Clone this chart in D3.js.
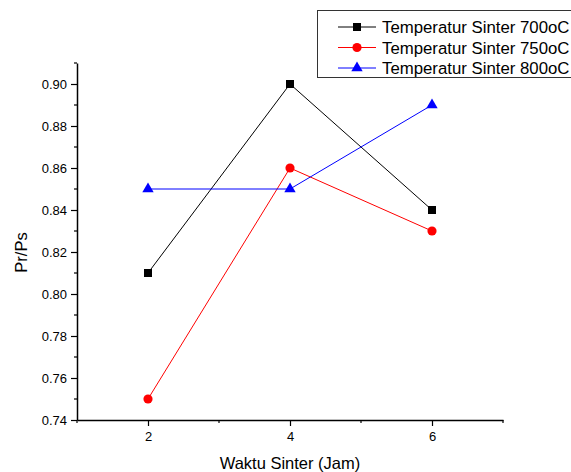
<!DOCTYPE html>
<html>
<head>
<meta charset="utf-8">
<script src="https://cdn.jsdelivr.net/npm/d3@7"></script>
<style>
  body { margin: 0; background: #fff; }
  svg { display: block; font-family: "Liberation Sans", Arial, sans-serif; }
</style>
</head>
<body>
<div id="chart"></div>
<script>
// Data
const waktu = [2, 4, 6];
const seriesNames = ["Temperatur Sinter 700oC", "Temperatur Sinter 750oC", "Temperatur Sinter 800oC"];
const pr700 = [0.81, 0.90, 0.84];
const pr750 = [0.75, 0.86, 0.83];
const pr800 = [0.85, 0.85, 0.89];
const yTicks = [0.74, 0.76, 0.78, 0.80, 0.82, 0.84, 0.86, 0.88, 0.90];
const yMinor = [0.75, 0.77, 0.79, 0.81, 0.83, 0.85, 0.87, 0.89, 0.91];
const xTicks = [2, 4, 6];
const xMinor = [1, 3, 5, 7];

const width = 571, height = 472;
const margin = { top: 63, right: 68, bottom: 52, left: 77 };

const svg = d3.select("#chart").append("svg")
  .attr("width", width)
  .attr("height", height);

const x = d3.scaleLinear().domain([1, 7]).range([margin.left, width - margin.right]);
const y = d3.scaleLinear().domain([0.74, 0.91]).range([height - margin.bottom, margin.top]);

// y axis
svg.append("g")
  .attr("transform", `translate(${margin.left},0)`)
  .call(d3.axisLeft(y).tickValues(yTicks).tickSize(6).tickSizeOuter(0).tickFormat(d3.format(".2f")))
  .call(g => g.selectAll("text").attr("font-size", 13).attr("fill", "#000").attr("dx", -1))
  .call(g => g.select(".domain").attr("stroke-width", 1.5))
  .call(g => g.selectAll(".tick line").attr("stroke-width", 1.2));

svg.append("g")
  .attr("transform", `translate(${margin.left},0)`)
  .selectAll("line").data(yMinor).join("line")
  .attr("x1", -3).attr("x2", 0)
  .attr("y1", d => y(d)).attr("y2", d => y(d))
  .attr("stroke", "#000").attr("stroke-width", 1.2);

// x axis
svg.append("g")
  .attr("transform", `translate(0,${height - margin.bottom})`)
  .call(d3.axisBottom(x).tickValues(xTicks).tickSize(6).tickSizeOuter(0).tickFormat(d3.format("d")))
  .call(g => g.selectAll("text").attr("font-size", 13).attr("fill", "#000").attr("dy", "0.9em"))
  .call(g => g.select(".domain").attr("stroke-width", 1.5))
  .call(g => g.selectAll(".tick line").attr("stroke-width", 1.2));

svg.append("g")
  .attr("transform", `translate(0,${height - margin.bottom})`)
  .selectAll("line").data(xMinor).join("line")
  .attr("x1", d => x(d)).attr("x2", d => x(d))
  .attr("y1", 0).attr("y2", 3)
  .attr("stroke", "#000").attr("stroke-width", 1.2);

// axis titles
svg.append("text")
  .attr("x", 290)
  .attr("y", 469)
  .attr("text-anchor", "middle")
  .attr("font-size", 16.5)
  .text("Waktu Sinter (Jam)");

svg.append("text")
  .attr("transform", `translate(27,${(margin.top + height - margin.bottom) / 2 + 11}) rotate(-90)`)
  .attr("text-anchor", "middle")
  .attr("font-size", 16.5)
  .text("Pr/Ps");

const series = [
  { name: seriesNames[0], values: pr700, color: "#000000", shape: d3.symbolSquare, size: 64 },
  { name: seriesNames[1], values: pr750, color: "#ff0000", shape: d3.symbolCircle, size: 66 },
  { name: seriesNames[2], values: pr800, color: "#0000ff", shape: d3.symbolTriangle, size: 56 }
];

const line = d3.line().x(d => x(d[0])).y(d => y(d[1]));

series.forEach(s => {
  const pts = waktu.map((w, i) => [w, s.values[i]]);
  svg.append("path")
    .attr("d", line(pts))
    .attr("fill", "none")
    .attr("stroke", s.color)
    .attr("stroke-width", 1);
  svg.append("g").selectAll("path").data(pts).join("path")
    .attr("transform", d => `translate(${x(d[0])},${y(d[1])})`)
    .attr("d", d3.symbol(s.shape, s.size))
    .attr("fill", s.color);
});

// legend
const legend = svg.append("g");
legend.append("rect")
  .attr("x", 317.5).attr("y", 10.5)
  .attr("width", 270).attr("height", 67)
  .attr("fill", "#fff").attr("stroke", "#333").attr("stroke-width", 1);

series.forEach((s, i) => {
  const ly = 27 + i * 20.5;
  legend.append("line")
    .attr("x1", 338).attr("x2", 376)
    .attr("y1", ly).attr("y2", ly)
    .attr("stroke", s.color).attr("stroke-width", 1);
  legend.append("path")
    .attr("transform", `translate(357,${ly})`)
    .attr("d", d3.symbol(s.shape, s.size))
    .attr("fill", s.color);
  legend.append("text")
    .attr("x", 382).attr("y", ly)
    .attr("dy", "0.36em")
    .attr("font-size", 16.8)
    .text(s.name);
});
</script>
</body>
</html>
